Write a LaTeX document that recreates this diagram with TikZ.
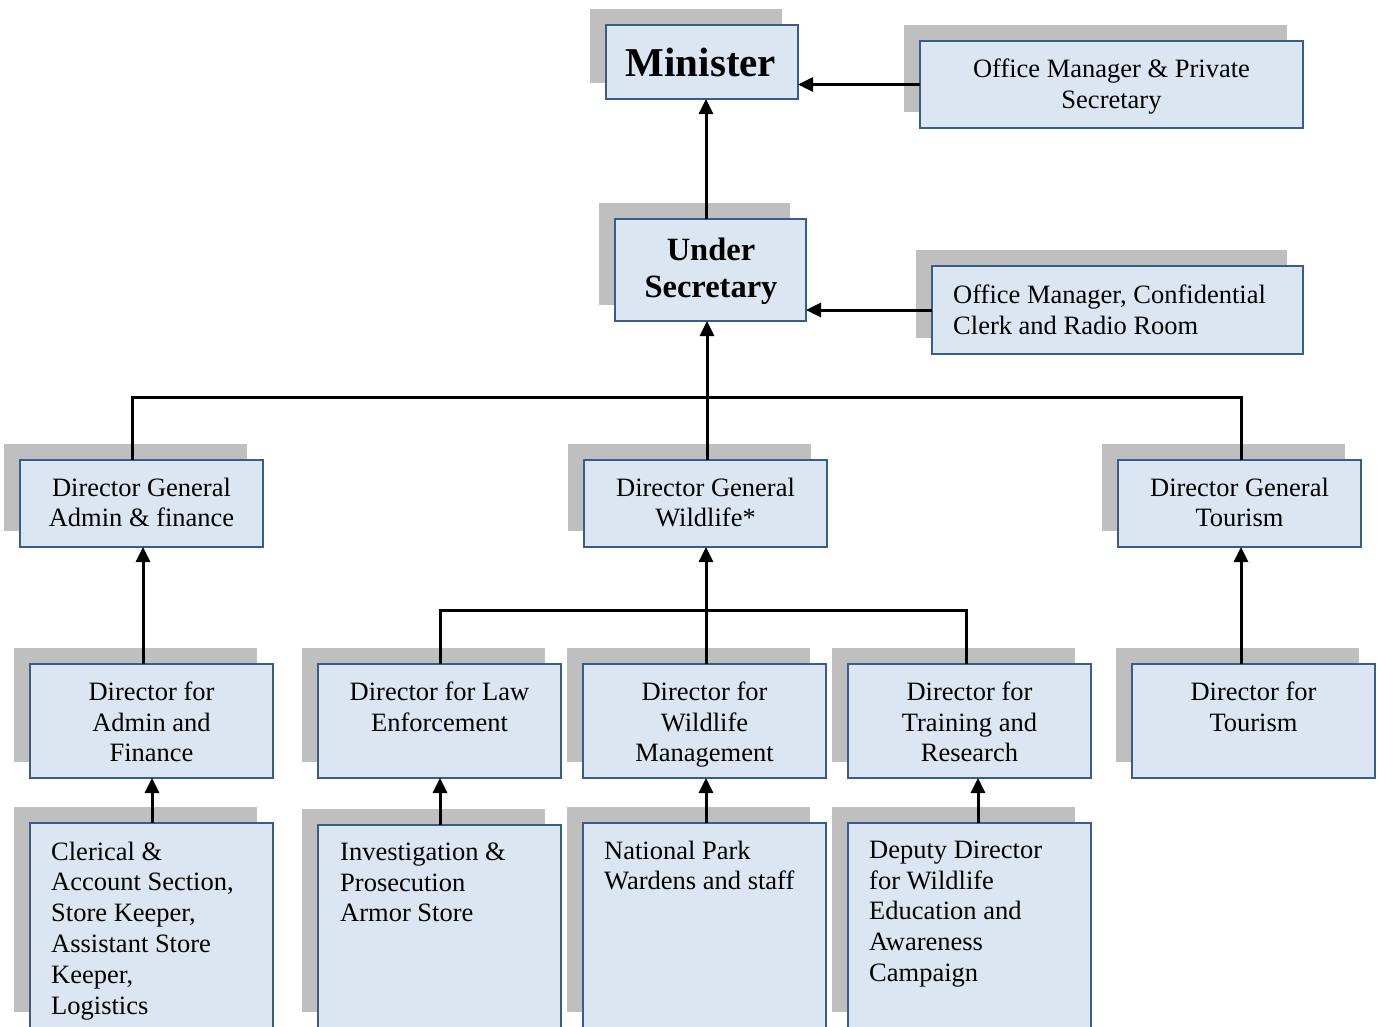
\documentclass[tikz,border=0pt]{standalone}
\usepackage{fontspec}
\setmainfont{Liberation Serif}
\usetikzlibrary{arrows.meta}
\definecolor{boxfill}{HTML}{DCE6F2}
\definecolor{boxline}{HTML}{385D8A}
\definecolor{shade}{HTML}{BFBFBF}
\tikzset{
  orgbox/.style={draw=boxline, fill=boxfill, line width=2pt, inner sep=0pt, outer sep=0pt, anchor=north west},
  shadowbox/.style={fill=shade},
  txt/.style={inner sep=0pt, yshift=-3.5pt, font=\fontsize{26.5}{30.8}\selectfont, execute at begin node=\strut},
  bigtxt/.style={inner sep=0pt, yshift=-3pt, font=\bfseries\fontsize{32.5}{37}\selectfont, execute at begin node=\strut},
  conn/.style={line width=3pt},
  arr/.style={conn, -{Triangle[length=15pt,width=14pt]}},
}
\newcommand\orgrect[5]{%
  \fill[shadowbox] (#2-16,#3-16) rectangle (#4-16,#5-16);
  \node[orgbox, minimum width={(#4-#2)*1pt}, minimum height={(#5-#3)*1pt}] (#1) at (#2,#3) {};
}
\begin{document}
\begin{tikzpicture}[x=1pt,y=-1pt]
\clip (0,0) rectangle (1378,1026);
\fill[white] (0,0) rectangle (1378,1026);

% boxes
\orgrect{min}{606}{25}{798}{99}
\orgrect{om1}{920}{41}{1303}{128}
\orgrect{us}{615}{219}{806}{321}
\orgrect{om2}{932}{266}{1303}{354}
\orgrect{dga}{20}{460}{263}{547}
\orgrect{dgw}{584}{460}{827}{547}
\orgrect{dgt}{1118}{460}{1361}{547}
\orgrect{dadm}{30}{664}{273}{778}
\orgrect{dlaw}{318}{664}{561}{778}
\orgrect{dwm}{583}{664}{826}{778}
\orgrect{dtr}{848}{664}{1091}{778}
\orgrect{dtou}{1132}{664}{1375}{778}
\orgrect{cler}{30}{823}{273}{1028}
\orgrect{inv}{318}{825}{561}{1028}
\orgrect{nat}{583}{823}{826}{1028}
\orgrect{dep}{848}{823}{1091}{1028}

% texts
\node[inner sep=0pt, font=\bfseries\fontsize{41}{48}\selectfont, anchor=base] (minT) at (701,76) {Minister};
\node[txt, anchor=north, align=center] (om1T) at (1111.5,55) {Office Manager \& Private\\Secretary};
\node[bigtxt, anchor=north, align=center] (usT) at (711,235) {Under\\Secretary};
\node[txt, anchor=north west, align=left] (om2T) at (953,281) {Office Manager, Confidential\\Clerk and Radio Room};
\node[txt, anchor=north, align=center] (dgaT) at (141.5,474) {Director General\\Admin \& finance};
\node[txt, anchor=north, align=center] (dgwT) at (705.5,474) {Director General\\Wildlife*};
\node[txt, anchor=north, align=center] (dgtT) at (1239.5,474) {Director General\\Tourism};
\node[txt, anchor=north, align=center] (dadmT) at (151.5,678) {Director for\\Admin and\\Finance};
\node[txt, anchor=north, align=center] (dlawT) at (439.5,678) {Director for Law\\Enforcement};
\node[txt, anchor=north, align=center] (dwmT) at (704.5,678) {Director for\\Wildlife\\Management};
\node[txt, anchor=north, align=center] (dtrT) at (969.5,678) {Director for\\Training and\\Research};
\node[txt, anchor=north, align=center] (dtouT) at (1253.5,678) {Director for\\Tourism};
\node[txt, anchor=north west, align=left] (clerT) at (51,838) {Clerical \&\\Account Section,\\Store Keeper,\\Assistant Store\\Keeper,\\Logistics};
\node[txt, anchor=north west, align=left] (invT) at (340,839) {Investigation \&\\Prosecution\\Armor Store};
\node[txt, anchor=north west, align=left] (natT) at (604,837) {National Park\\Wardens and staff};
\node[txt, anchor=north west, align=left] (depT) at (869,837) {Deputy Director\\for Wildlife\\Education and\\Awareness\\Campaign};

% junctions
\coordinate (j1) at (132,397);
\coordinate (j2) at (1241,397);
\coordinate (j3) at (440,610);
\coordinate (j4) at (966,610);

% connectors
\draw[arr] (om1.west) -- (om1.west -| min.east);
\draw[arr] (us.north -| 706,0) -- (min.south -| 706,0);
\draw[arr] (om2.west) -- (om2.west -| us.east);
\draw[conn] (dga.north -| j1) -- (j1) -- (j2) -- (dgt.north -| j2);
\draw[arr] (dgw.north -| 707,0) -- (us.south -| 707,0);
\draw[arr] (dadm.north -| 143,0) -- (dga.south -| 143,0);
\draw[conn] (dlaw.north -| j3) -- (j3) -- (j4) -- (dtr.north -| j4);
\draw[arr] (dwm.north -| 706,0) -- (dgw.south -| 706,0);
\draw[arr] (dtou.north -| 1241,0) -- (dgt.south -| 1241,0);
\draw[arr] (cler.north -| 152,0) -- (dadm.south -| 152,0);
\draw[arr] (inv.north -| 440,0) -- (dlaw.south -| 440,0);
\draw[arr] (nat.north -| 706,0) -- (dwm.south -| 706,0);
\draw[arr] (dep.north -| 978,0) -- (dtr.south -| 978,0);
\end{tikzpicture}
\end{document}
